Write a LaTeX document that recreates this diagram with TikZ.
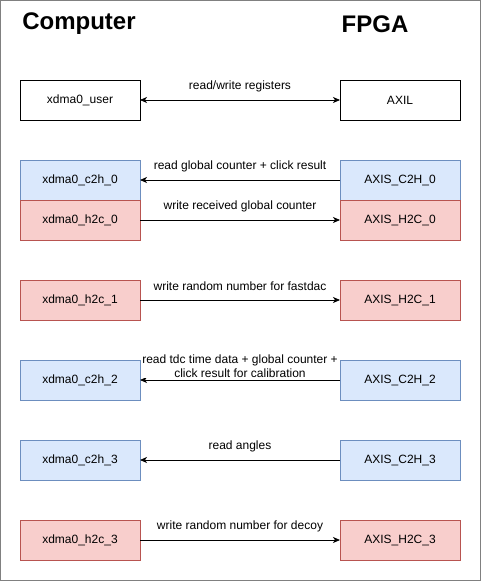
\documentclass[tikz,border=0pt]{standalone}
\usepackage{fontspec}
\setmainfont{Liberation Sans}
\usetikzlibrary{arrows.meta, positioning}
\definecolor{c2hFill}{HTML}{DAE8FC}
\definecolor{c2hLine}{HTML}{6C8EBF}
\definecolor{h2cFill}{HTML}{F8CECC}
\definecolor{h2cLine}{HTML}{B85450}
\definecolor{frameGray}{HTML}{808080}

\begin{document}
\begin{tikzpicture}[
    x=1pt, y=-1pt,
    node distance=40pt and 200pt,
    >={Stealth[length=7pt, width=6pt, inset=2pt]},
    chan/.style={rectangle, draw=black, fill=white, line width=0.8pt,
                 minimum width=120pt, minimum height=40pt, inner sep=0pt, outer sep=0pt,
                 font=\fontsize{12}{14}\selectfont},
    c2h/.style={chan, draw=c2hLine, fill=c2hFill},
    h2c/.style={chan, draw=h2cLine, fill=h2cFill},
    heading/.style={font=\fontsize{24}{28}\selectfont\bfseries},
    lbl/.style={font=\fontsize{12}{14}\selectfont, align=center, fill=white,
                inner sep=1pt, yshift=14pt},
    link/.style={line width=0.8pt, ->},
  ]
    \draw[frameGray, line width=1pt] (0.5,0.5) rectangle (480.5,580.5);

    \node[heading] (comp) at (79,24) {Computer};
    \node[heading] (fpga) at (375,24) {FPGA};

    % computer side
    \node[chan] (user) at (80,100) {xdma0\_user};
    \node[c2h, below=of user] (c2h0) {xdma0\_c2h\_0};
    \node[h2c, below=0pt of c2h0] (h2c0) {xdma0\_h2c\_0};
    \node[h2c, below=of h2c0] (h2c1) {xdma0\_h2c\_1};
    \node[c2h, below=of h2c1] (c2h2) {xdma0\_c2h\_2};
    \node[c2h, below=of c2h2] (c2h3) {xdma0\_c2h\_3};
    \node[h2c, below=of c2h3] (h2c3) {xdma0\_h2c\_3};

    % fpga side
    \node[chan, right=of user] (axil) {AXIL};
    \node[c2h, right=of c2h0] (axc0) {AXIS\_C2H\_0};
    \node[h2c, right=of h2c0] (axh0) {AXIS\_H2C\_0};
    \node[h2c, right=of h2c1] (axh1) {AXIS\_H2C\_1};
    \node[c2h, right=of c2h2] (axc2) {AXIS\_C2H\_2};
    \node[c2h, right=of c2h3] (axc3) {AXIS\_C2H\_3};
    \node[h2c, right=of h2c3] (axh3) {AXIS\_H2C\_3};

    \draw[link, <->] (user) -- node[lbl] {read/write registers} (axil);
    \draw[link] (axc0) -- node[lbl] {read global counter + click result} (c2h0);
    \draw[link] (h2c0) -- node[lbl] {write received global counter} (axh0);
    \draw[link] (h2c1) -- node[lbl] {write random number for fastdac} (axh1);
    \draw[link] (axc2) -- node[lbl] {read tdc time data + global counter +\\click result for calibration} (c2h2);
    \draw[link] (axc3) -- node[lbl] {read angles} (c2h3);
    \draw[link] (h2c3) -- node[lbl] {write random number for decoy} (axh3);
  \end{tikzpicture}
\end{document}
